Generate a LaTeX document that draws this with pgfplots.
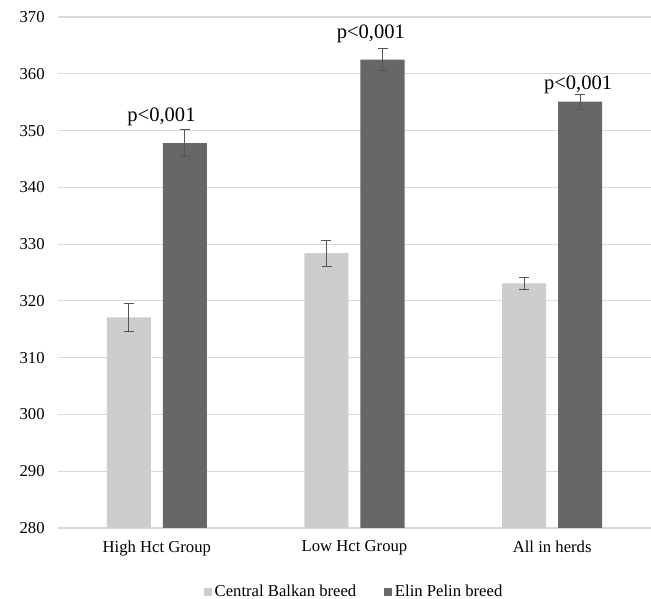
\documentclass[border=0pt]{standalone}
\usepackage{fontspec}
\setmainfont{Liberation Serif}
\usepackage{pgfplots}
\pgfplotsset{compat=1.18}
\definecolor{lightbar}{RGB}{205,205,205}
\definecolor{darkbar}{RGB}{103,103,103}
\definecolor{gridc}{RGB}{217,217,217}
\definecolor{errc}{RGB}{85,85,85}
\pgfplotstableread{
x y e
0 317.1 2.5
1 328.4 2.3
2 323.1 1.1
}\central
\pgfplotstableread{
x y e
0 347.8 2.4
1 362.5 1.9
2 355.1 1.3
}\elin
\begin{document}
\begin{tikzpicture}
\path[use as bounding box] (-43.5pt,-53.25pt) rectangle (444.75pt,396pt);
\begin{axis}[
  at={(0,0)}, anchor=south west,
  scale only axis, width=444.75pt, height=383.25pt,
  ybar=9pt, bar width=33pt,
  xmin=-0.5, xmax=2.5, ymin=280, ymax=370,
  xtick=data, xticklabels={High Hct Group, Low Hct Group, All in herds},
  ytick distance=10,
  major tick length=0pt,
  axis line style={draw=none},
  ymajorgrids, grid style={gridc, line width=0.8pt},
  /pgf/number format/assume math mode=true,
  yticklabel style={font=\fontsize{12.5}{14}\selectfont, xshift=-6.5pt},
  xticklabel style={font=\fontsize{12.5}{14}\selectfont, yshift=-6pt},
  legend columns=2,
  legend style={draw=none, at={(0.5,-0.125)}, anchor=center,
    font=\fontsize{12.5}{14}\selectfont,
    /tikz/every odd column/.append style={column sep=0pt},
    /tikz/every even column/.append style={column sep=19pt},
    nodes={inner xsep=2pt}},
  legend image code/.code={\fill[#1] (0pt,-3pt) rectangle (6pt,3pt);},
  error bars/y dir=both, error bars/y explicit,
  error bars/error bar style={errc, line width=0.6pt},
  error bars/error mark options={errc, line width=0.6pt, mark size=3.75pt, rotate=90},
]
\addplot[fill=lightbar, draw=none] table[x=x, y=y, y error=e] {\central};
\addplot[fill=darkbar, draw=none] table[x=x, y=y, y error=e] {\elin};
\legend{Central Balkan breed, Elin Pelin breed}
\node[font=\fontsize{15.4}{18}\selectfont] at (axis cs:0.0236,352.4) {p<0,001};
\node[font=\fontsize{15.4}{18}\selectfont] at (axis cs:1.083,367.0) {p<0,001};
\node[font=\fontsize{15.4}{18}\selectfont] at (axis cs:2.131,358.0) {p<0,001};
\end{axis}
\end{tikzpicture}
\end{document}
